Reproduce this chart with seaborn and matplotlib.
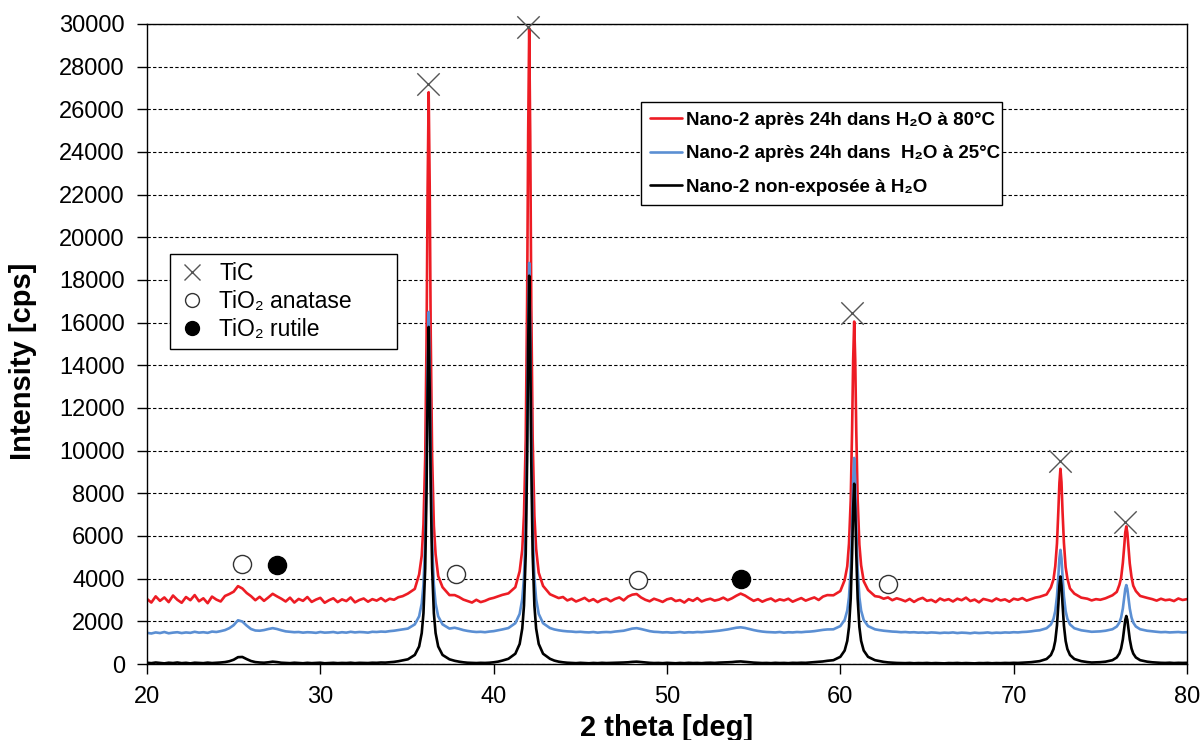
import matplotlib
matplotlib.use("Agg")
import matplotlib.pyplot as plt
import seaborn as sns
import pandas as pd

# angles 2theta (deg), shared by the three diffractograms
two_theta = [
    # baseline 20 - 34.75
    20.0, 20.25, 20.5, 20.75, 21.0, 21.25, 21.5, 21.75, 22.0, 22.25, 22.5, 22.75,
    23.0, 23.25, 23.5, 23.75, 24.0, 24.25, 24.5, 24.75, 25.0, 25.25, 25.5, 25.75,
    26.0, 26.25, 26.5, 26.75, 27.0, 27.25, 27.5, 27.75, 28.0, 28.25, 28.5, 28.75,
    29.0, 29.25, 29.5, 29.75, 30.0, 30.25, 30.5, 30.75, 31.0, 31.25, 31.5, 31.75,
    32.0, 32.25, 32.5, 32.75, 33.0, 33.25, 33.5, 33.75, 34.0, 34.25, 34.5, 34.75,
    # TiC peak ~36.2
    35.05, 35.45, 35.7, 35.85, 35.95, 36.05, 36.13, 36.19, 36.25, 36.31, 36.37,
    36.45, 36.55, 36.65, 36.8, 37.05, 37.45,
    # baseline
    37.75, 38.0, 38.25, 38.5, 38.75, 39.0, 39.25, 39.5, 39.75, 40.0, 40.25, 40.5,
    # TiC peak ~42
    40.85, 41.25, 41.5, 41.65, 41.75, 41.85, 41.93, 41.99, 42.05, 42.11, 42.17,
    42.25, 42.35, 42.45, 42.6, 42.85, 43.25,
    # baseline 43.5 - 59.25
    43.5, 43.75, 44.0, 44.25, 44.5, 44.75, 45.0, 45.25, 45.5, 45.75, 46.0, 46.25,
    46.5, 46.75, 47.0, 47.25, 47.5, 47.75, 48.0, 48.25, 48.5, 48.75, 49.0, 49.25,
    49.5, 49.75, 50.0, 50.25, 50.5, 50.75, 51.0, 51.25, 51.5, 51.75, 52.0, 52.25,
    52.5, 52.75, 53.0, 53.25, 53.5, 53.75, 54.0, 54.25, 54.5, 54.75, 55.0, 55.25,
    55.5, 55.75, 56.0, 56.25, 56.5, 56.75, 57.0, 57.25, 57.5, 57.75, 58.0, 58.25,
    58.5, 58.75, 59.0, 59.25,
    # TiC peak ~60.8
    59.6, 60.0, 60.25, 60.4, 60.5, 60.6, 60.68, 60.74, 60.8, 60.86, 60.92,
    61.0, 61.1, 61.2, 61.35, 61.6, 62.0,
    # baseline 62.25 - 71.25
    62.25, 62.5, 62.75, 63.0, 63.25, 63.5, 63.75, 64.0, 64.25, 64.5, 64.75, 65.0,
    65.25, 65.5, 65.75, 66.0, 66.25, 66.5, 66.75, 67.0, 67.25, 67.5, 67.75, 68.0,
    68.25, 68.5, 68.75, 69.0, 69.25, 69.5, 69.75, 70.0, 70.25, 70.5, 70.75, 71.0,
    71.25,
    # TiC peak ~72.7
    71.5, 71.9, 72.15, 72.3, 72.4, 72.5, 72.58, 72.64, 72.7, 72.76, 72.82,
    72.9, 73.0, 73.1, 73.25, 73.5, 73.9,
    # baseline
    74.25, 74.5, 74.75, 75.0,
    # TiC peak ~76.5
    75.3, 75.7, 75.95, 76.1, 76.2, 76.3, 76.38, 76.44, 76.5, 76.56, 76.62,
    76.7, 76.8, 76.9, 77.05, 77.3, 77.7,
    # baseline
    78.0, 78.25, 78.5, 78.75, 79.0, 79.25, 79.5, 79.75, 80.0,
]

# Nano-2 après 24h dans H2O à 80°C
int_80c = [
    3050, 2880, 3170, 2960, 3120, 2900, 3210, 3010, 2870, 3140, 2990, 3230,
    2940, 3080, 2850, 3160, 3020, 2930, 3190, 3280, 3390, 3650, 3540, 3330,
    3180, 2990, 3150, 2960, 3120, 3290, 3170, 3060, 2930, 3110, 2880, 3050,
    2960, 3140, 2910, 3020, 3100, 2870, 2990, 3080, 2900, 3030, 2950, 3120,
    2890, 3000, 3070, 2920, 3040, 2970, 3090, 2940, 3060, 3010, 3130, 3180,
    3300, 3520, 4200, 5080, 6550, 9650, 15400, 22300, 26800, 22400, 15350,
    9720, 6480, 5150, 4120, 3600, 3230,
    3230, 3140, 3020, 2950, 2880, 3010, 2900, 2960, 3050, 3100, 3170, 3240,
    3310, 3600, 4350, 5360, 7000, 10500, 16950, 24800, 29800, 24750, 16900,
    10560, 6940, 5400, 4280, 3660, 3270,
    3180, 3090, 3140, 2980, 3060, 2930, 3010, 3100, 2950, 3040, 2900, 3020,
    3070, 2940, 3050, 3120, 2980, 3160, 3250, 3280, 3120, 3010, 2940, 3060,
    2990, 2910, 3030, 3080, 2950, 3000, 2880, 3040, 2960, 3090, 2930, 3010,
    3060, 2970, 3020, 3110, 2990, 3080, 3200, 3300, 3210, 3080, 2960, 3040,
    2920, 3010, 3070, 2940, 3030, 2980, 3060, 2920, 3010, 3090, 2970, 3050,
    3120, 3000, 3160, 3230,
    3220, 3420, 3930, 4580, 5640, 7680, 10990, 14230, 16050, 14270, 10940,
    7720, 5590, 4630, 3880, 3470, 3180,
    3150, 3060, 3120, 2990, 3080, 3020, 2940, 3050, 2910, 3030, 3100, 2960,
    3010, 2900, 3070, 2980, 3040, 2930, 3060, 2990, 3110, 2950, 3020, 2890,
    3050, 3000, 2940, 3070, 2980, 3030, 2920, 3060, 3010, 3090, 2970, 3040,
    3110,
    3150, 3260, 3590, 3970, 4580, 5650, 7200, 8490, 9150, 8520, 7160,
    5690, 4540, 4010, 3540, 3300, 3110,
    3060, 2980, 3040, 3010,
    3080, 3220, 3380, 3710, 4040, 4740, 5520, 6170, 6450, 6150, 5550,
    4710, 4080, 3670, 3420, 3190, 3100,
    3040, 2970, 3060, 2990, 3020, 2950, 3070, 3000, 3040,
]

# Nano-2 après 24h dans H2O à 25°C
int_25c = [
    1460, 1430, 1480, 1450, 1500, 1440, 1470, 1490, 1450, 1480, 1460, 1510,
    1470, 1490, 1460, 1520, 1500, 1540, 1590, 1680, 1820, 2050, 1990, 1800,
    1640, 1570, 1560, 1590, 1640, 1680, 1640, 1580, 1530, 1510, 1490, 1500,
    1470, 1490, 1480, 1460, 1500, 1470, 1480, 1500, 1460, 1490, 1470, 1510,
    1480, 1500, 1490, 1470, 1510, 1500, 1520, 1510, 1540, 1560, 1590, 1620,
    1660, 1857, 2235, 2835, 3720, 5715, 9300, 13700, 16500, 13700, 9300,
    5715, 3720, 2835, 2235, 1857, 1660,
    1700, 1650, 1590, 1550, 1520, 1500, 1510, 1490, 1520, 1540, 1580, 1620,
    1685, 1912, 2348, 3040, 4060, 6361, 10496, 15565, 18800, 15565, 10496,
    6361, 4060, 3040, 2348, 1912, 1685,
    1620, 1580, 1550, 1530, 1520, 1500, 1510, 1490, 1480, 1500, 1470, 1490,
    1500, 1490, 1520, 1540, 1560, 1610, 1660, 1680, 1640, 1590, 1540, 1510,
    1500, 1480, 1490, 1470, 1480, 1500, 1470, 1490, 1480, 1500, 1490, 1510,
    1520, 1540, 1560, 1590, 1620, 1660, 1700, 1720, 1690, 1640, 1590, 1550,
    1520, 1500, 1490, 1480, 1500, 1470, 1490, 1480, 1500, 1490, 1510, 1520,
    1540, 1570, 1600, 1620,
    1626, 1777, 2065, 2504, 3132, 4438, 6478, 8534, 9660, 8534, 6478,
    4438, 3132, 2504, 2065, 1777, 1626,
    1590, 1560, 1540, 1520, 1510, 1490, 1500, 1480, 1490, 1470, 1480, 1460,
    1480, 1470, 1450, 1470, 1460, 1480, 1450, 1470, 1460, 1440, 1470, 1450,
    1460, 1480, 1450, 1470, 1460, 1480, 1470, 1490, 1480, 1500, 1510, 1530,
    1560,
    1580, 1676, 1854, 2120, 2478, 3171, 4118, 4946, 5350, 4946, 4118,
    3171, 2478, 2120, 1854, 1676, 1580,
    1540, 1510, 1520, 1530,
    1559, 1629, 1757, 1940, 2178, 2600, 3117, 3517, 3700, 3517, 3117,
    2600, 2178, 1940, 1757, 1629, 1559,
    1530, 1510, 1490, 1500, 1480, 1490, 1500, 1480, 1490,
]

# Nano-2 non-exposée à H2O
int_ref = [
    60, 40, 70, 50, 30, 60, 45, 70, 40, 55, 30, 60,
    50, 40, 65, 45, 55, 70, 90, 130, 200, 320, 330, 230,
    140, 90, 70, 60, 80, 110, 90, 60, 50, 40, 60, 45,
    35, 55, 40, 50, 60, 35, 45, 55, 40, 50, 45, 60,
    40, 55, 50, 45, 60, 55, 70, 65, 80, 100, 130, 170,
    220, 425, 822, 1450, 2380, 4475, 8240, 12850, 15800, 12850, 8240,
    4475, 2380, 1450, 822, 425, 220,
    150, 110, 80, 60, 50, 45, 55, 50, 60, 80, 110, 160,
    244, 482, 939, 1665, 2736, 5150, 9488, 14806, 18200, 14806, 9488,
    5150, 2736, 1665, 939, 482, 244,
    160, 110, 80, 60, 50, 40, 55, 45, 35, 50, 40, 55,
    45, 50, 60, 55, 70, 80, 100, 110, 90, 70, 55, 45,
    50, 40, 55, 45, 35, 50, 40, 55, 45, 50, 40, 55,
    60, 50, 65, 70, 80, 90, 110, 120, 100, 80, 65, 55,
    45, 50, 40, 55, 45, 50, 40, 55, 50, 60, 55, 70,
    80, 100, 120, 150,
    179, 336, 631, 1083, 1730, 3074, 5174, 7290, 8450, 7290, 5174,
    3074, 1730, 1083, 631, 336, 179,
    140, 100, 75, 60, 50, 45, 40, 50, 35, 45, 40, 50,
    35, 45, 40, 30, 45, 40, 50, 35, 45, 40, 30, 45,
    40, 50, 35, 45, 40, 50, 45, 55, 50, 60, 70, 85,
    110,
    134, 235, 423, 702, 1079, 1808, 2804, 3675, 4100, 3675, 2804,
    1808, 1079, 702, 423, 235, 134,
    90, 70, 75, 85,
    109, 179, 307, 490, 728, 1150, 1667, 2067, 2250, 2067, 1667,
    1150, 728, 490, 307, 179, 109,
    80, 65, 55, 50, 60, 45, 55, 50, 55,
]

sample_labels = [
    "Nano-2 après 24h dans H₂O à 80°C",
    "Nano-2 après 24h dans  H₂O à 25°C",
    "Nano-2 non-exposée à H₂O",
]
sample_colors = ["#ED1C24", "#5B8FD3", "#000000"]

# phase identification marks
tic_x = [36.21, 41.98, 60.68, 72.68, 76.43]
tic_y = [27200, 29850, 16450, 9500, 6650]
anatase_x = [25.5, 37.8, 48.3, 62.75]
anatase_y = [4700, 4230, 3950, 3760]
rutile_x = [27.5, 54.25]
rutile_y = [4650, 4000]

spectra = pd.concat([
    pd.DataFrame({"two_theta": two_theta, "intensity": vals, "sample": lab})
    for vals, lab in zip([int_80c, int_25c, int_ref], sample_labels)
], ignore_index=True)

sns.set_theme(style="white")
plt.rcParams["font.family"] = ["Liberation Sans", "DejaVu Sans"]
plt.rcParams["text.color"] = "black"
plt.rcParams["axes.labelcolor"] = "black"

fig, ax = plt.subplots(figsize=(12.02, 7.40), dpi=100)
fig.subplots_adjust(left=0.1223, right=0.9875, top=0.9676, bottom=0.1027)

sns.lineplot(data=spectra, x="two_theta", y="intensity", hue="sample",
             hue_order=sample_labels, palette=sample_colors, estimator=None,
             linewidth=1.9, ax=ax)
line_handles, line_labels = ax.get_legend_handles_labels()
ax.get_legend().remove()

sns.scatterplot(x=tic_x, y=tic_y, marker="x", s=260, color="#555555",
                linewidth=1.0, ax=ax, zorder=5, clip_on=False)
sns.scatterplot(x=anatase_x, y=anatase_y, marker="o", s=170, facecolor="white",
                edgecolor="#333333", linewidth=1.0, ax=ax, zorder=5)
sns.scatterplot(x=rutile_x, y=rutile_y, marker="o", s=170, color="black",
                edgecolor="black", linewidth=1.0, ax=ax, zorder=5)

ax.set_xlim(20, 80)
ax.set_ylim(0, 30000)
ax.set_xticks(range(20, 81, 10))
ax.set_yticks(range(0, 30001, 2000))
ax.yaxis.grid(True, color="black", linestyle=(0, (3, 2)), linewidth=0.8)
ax.xaxis.grid(False)
for sp in ax.spines.values():
    sp.set_color("black")
    sp.set_linewidth(1.0)
ax.tick_params(axis="both", which="major", bottom=True, left=True,
               direction="out", length=7, width=1, color="black",
               labelsize=17, labelcolor="black", pad=9)

ax.set_xlabel("2 theta [deg]", fontsize=21, fontweight="bold", labelpad=4)
ax.set_ylabel("Intensity [cps]", fontsize=21, fontweight="bold")
ax.yaxis.set_label_coords(-0.106, 0.473)

leg1 = ax.legend(line_handles, line_labels, loc="upper left",
                 bbox_to_anchor=(0.475, 0.0, 0.347, 0.878), mode="expand",
                 frameon=True, fancybox=False,
                 edgecolor="black", framealpha=1, borderaxespad=0,
                 handlelength=1.7, handletextpad=0.2, labelspacing=0.88,
                 borderpad=0.5, prop={"size": 13.5, "weight": "bold"})
leg1.get_frame().set_linewidth(1.0)
ax.add_artist(leg1)

phase_handles = [
    plt.Line2D([], [], marker="x", linestyle="none", markersize=12,
               color="#555555", markeredgewidth=1.0),
    plt.Line2D([], [], marker="o", linestyle="none", markersize=10,
               markerfacecolor="white", markeredgecolor="#333333"),
    plt.Line2D([], [], marker="o", linestyle="none", markersize=10,
               color="black"),
]
leg2 = ax.legend(phase_handles, ["TiC", "TiO₂ anatase", "TiO₂ rutile"],
                 loc="upper left", bbox_to_anchor=(0.022, 0.0, 0.218, 0.641),
                 mode="expand", frameon=True, fancybox=False,
                 edgecolor="black", framealpha=1, borderaxespad=0,
                 handlelength=1.2, handletextpad=0.6, labelspacing=0.22,
                 borderpad=0.35, prop={"size": 16.5})
leg2.get_frame().set_linewidth(1.0)

fig.savefig("out.png", dpi=100)
